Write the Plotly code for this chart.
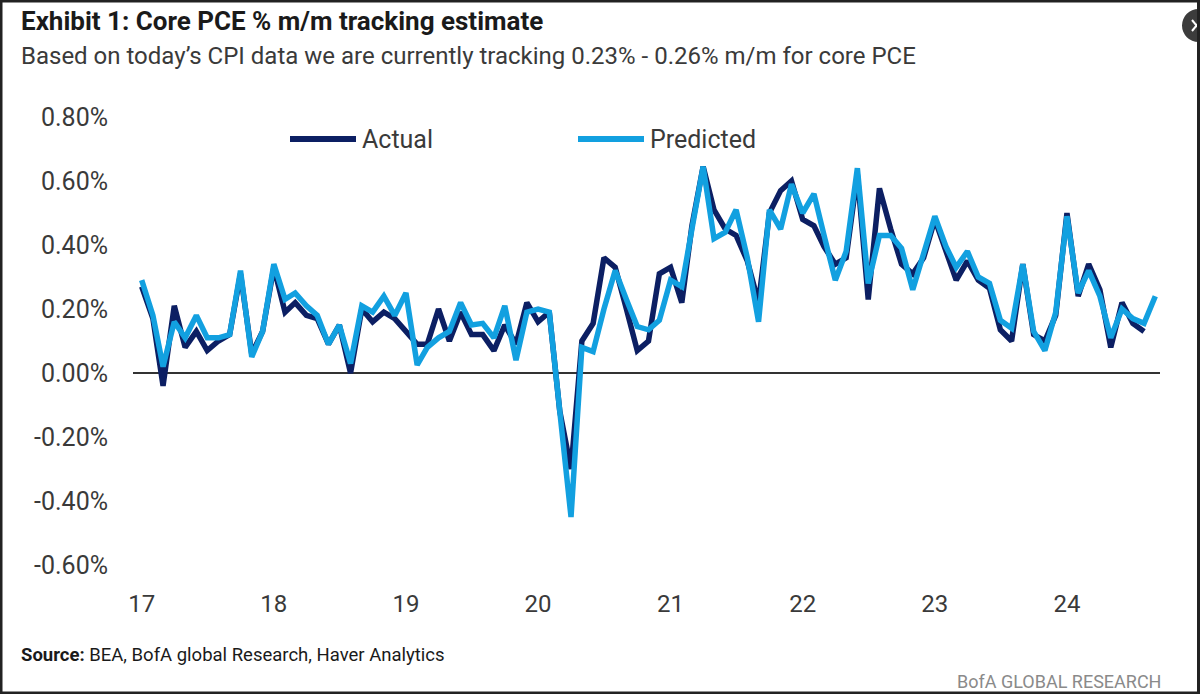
import plotly.graph_objects as go
import pandas as pd

# ---------------- data ----------------
months = pd.date_range("2017-01-01", periods=93, freq="MS")

actual = [
    0.27, 0.17, -0.04, 0.21, 0.08, 0.13, 0.07, 0.10, 0.12, 0.31, 0.06, 0.13,   # 2017
    0.33, 0.19, 0.22, 0.18, 0.17, 0.09, 0.15, 0.00, 0.20, 0.16, 0.19, 0.17,    # 2018
    0.13, 0.09, 0.09, 0.20, 0.10, 0.19, 0.12, 0.12, 0.07, 0.15, 0.09, 0.22,    # 2019
    0.16, 0.19, -0.12, -0.30, 0.10, 0.155, 0.36, 0.33, 0.20, 0.07, 0.10, 0.31, # 2020
    0.33, 0.22, 0.46, 0.645, 0.51, 0.45, 0.43, 0.35, 0.22, 0.50, 0.57, 0.60,   # 2021
    0.48, 0.46, 0.395, 0.34, 0.36, 0.62, 0.23, 0.577, 0.45, 0.34, 0.31, 0.36,  # 2022
    0.48, 0.385, 0.29, 0.35, 0.29, 0.265, 0.135, 0.10, 0.34, 0.12, 0.10, 0.18, # 2023
    0.50, 0.24, 0.34, 0.26, 0.08, 0.22, 0.155, 0.13,                           # 2024
]

predicted = [
    0.29, 0.18, 0.02, 0.16, 0.11, 0.18, 0.11, 0.11, 0.12, 0.32, 0.05, 0.13,    # 2017
    0.34, 0.23, 0.25, 0.21, 0.18, 0.09, 0.15, 0.03, 0.21, 0.19, 0.24, 0.18,    # 2018
    0.25, 0.025, 0.08, 0.11, 0.13, 0.22, 0.15, 0.155, 0.11, 0.21, 0.04, 0.19,  # 2019
    0.20, 0.19, -0.12, -0.45, 0.08, 0.067, 0.20, 0.32, 0.23, 0.145, 0.135, 0.165,  # 2020
    0.29, 0.27, 0.45, 0.645, 0.42, 0.44, 0.51, 0.36, 0.16, 0.51, 0.45, 0.59,   # 2021
    0.50, 0.56, 0.43, 0.29, 0.38, 0.64, 0.28, 0.43, 0.43, 0.39, 0.26, 0.37,    # 2022
    0.49, 0.395, 0.33, 0.38, 0.30, 0.28, 0.165, 0.14, 0.34, 0.13, 0.07, 0.19,  # 2023
    0.49, 0.25, 0.32, 0.24, 0.11, 0.20, 0.17, 0.155, 0.24,                     # 2024
]

year_ticks = pd.date_range("2017-01-01", periods=8, freq="YS")
year_labels = ["17", "18", "19", "20", "21", "22", "23", "24"]

y_ticks = [-0.6, -0.4, -0.2, 0.0, 0.2, 0.4, 0.6, 0.8]
y_labels = ["-0.60%", "-0.40%", "-0.20%", "0.00%", "0.20%", "0.40%", "0.60%", "0.80%"]

title = "Exhibit 1: Core PCE % m/m tracking estimate"
subtitle = "Based on today\u2019s CPI data we are currently tracking 0.23% - 0.26% m/m for core PCE"

# ---------------- styling ----------------
W, H = 1200, 694
L, R, T, B = 133, 1160, 117, 565          # plot area in pixels
FONT = "Roboto, Liberation Sans, sans-serif"
DARK = "#0c1f63"
LIGHT = "#12a0e0"
TXT = "#3a3a3a"


def px(x):
    return (x - L) / (R - L)


def py(y):
    return (B - y) / (B - T)


fig = go.Figure()
fig.add_trace(go.Scatter(x=months[:len(actual)], y=actual, mode="lines", name="Actual",
                         line=dict(color=DARK, width=5.5), showlegend=False))
fig.add_trace(go.Scatter(x=months[:len(predicted)], y=predicted, mode="lines", name="Predicted",
                         line=dict(color=LIGHT, width=5.5), showlegend=False))

shapes = [
    # custom legend line samples
    dict(type="line", xref="paper", yref="paper", x0=px(290), x1=px(356), y0=py(139), y1=py(139),
         line=dict(color=DARK, width=6)),
    dict(type="line", xref="paper", yref="paper", x0=px(578), x1=px(644), y0=py(139), y1=py(139),
         line=dict(color=LIGHT, width=6)),
    # close button artifact (top-right)
    dict(type="circle", xref="paper", yref="paper", x0=px(1182), x1=px(1215), y0=py(9), y1=py(42),
         fillcolor="#3c3c3c", line=dict(width=0)),
    dict(type="line", xref="paper", yref="paper", x0=px(1192), x1=px(1201), y0=py(20), y1=py(31),
         line=dict(color="white", width=2)),
    dict(type="line", xref="paper", yref="paper", x0=px(1192), x1=px(1201), y0=py(31), y1=py(20),
         line=dict(color="white", width=2)),
    # outer frame of the picture
    dict(type="rect", xref="paper", yref="paper", x0=px(1), x1=px(W - 1.5), y0=py(1), y1=py(H - 1),
         line=dict(color="#222222", width=3), layer="above"),
]

annotations = [
    dict(text="<b>" + title + "</b>", x=px(19), y=py(21), xref="paper", yref="paper",
         xanchor="left", yanchor="middle", showarrow=False,
         font=dict(family=FONT, size=26, color="#1a1a1a")),
    dict(text=subtitle, x=px(19), y=py(56), xref="paper", yref="paper",
         xanchor="left", yanchor="middle", showarrow=False,
         font=dict(family=FONT, size=24, color=TXT)),
    dict(text="Actual", x=px(360), y=py(139), xref="paper", yref="paper",
         xanchor="left", yanchor="middle", showarrow=False,
         font=dict(family=FONT, size=25, color=TXT)),
    dict(text="Predicted", x=px(648), y=py(139), xref="paper", yref="paper",
         xanchor="left", yanchor="middle", showarrow=False,
         font=dict(family=FONT, size=25, color=TXT)),
    dict(text="<b>Source:</b> BEA, BofA global Research, Haver Analytics", x=px(19), y=py(655),
         xref="paper", yref="paper", xanchor="left", yanchor="middle", showarrow=False,
         font=dict(family=FONT, size=18.5, color="#1a1a1a")),
    dict(text="BofA GLOBAL RESEARCH", x=px(1163), y=py(681), xref="paper", yref="paper",
         xanchor="right", yanchor="middle", showarrow=False,
         font=dict(family=FONT, size=18, color="#8a8a8a")),
]

fig.update_layout(
    width=W, height=H,
    margin=dict(l=L, r=W - R, t=T, b=H - B, pad=0),
    paper_bgcolor="white", plot_bgcolor="white",
    font=dict(family=FONT, color=TXT),
    shapes=shapes, annotations=annotations,
    showlegend=False, hovermode=False,
)

fig.update_xaxes(
    range=[pd.Timestamp("2016-12-08"), pd.Timestamp("2024-09-14")],
    tickvals=year_ticks, ticktext=year_labels,
    showgrid=False, zeroline=False, showline=False, ticks="",
    tickfont=dict(family=FONT, size=24, color=TXT), ticklabelstandoff=22,
)
fig.update_yaxes(
    range=[-0.6, 0.8], tickvals=y_ticks, ticktext=y_labels,
    showgrid=False, zeroline=True, zerolinecolor="#333333", zerolinewidth=2,
    showline=False, ticks="",
    tickfont=dict(family=FONT, size=25, color=TXT), ticklabelstandoff=24,
)

fig.write_html("out.html",
               config={"displayModeBar": False},
               post_script="document.body.style.margin='0px';document.body.style.overflow='hidden';")
